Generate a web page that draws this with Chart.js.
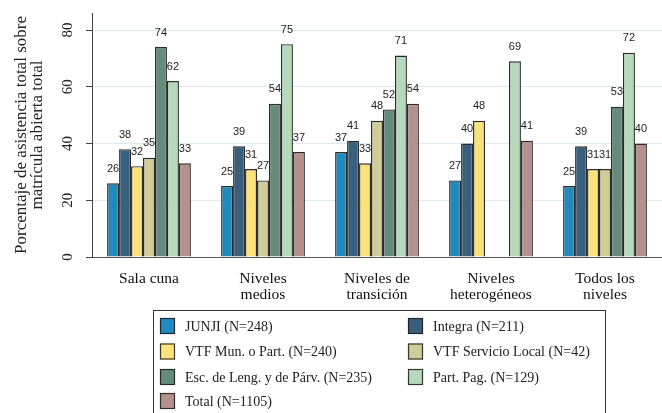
<!DOCTYPE html>
<html><head><meta charset="utf-8">
<script src="https://cdn.jsdelivr.net/npm/chart.js@4.4.0/dist/chart.umd.min.js"></script>
<style>html,body{margin:0;padding:0;background:#fff;}#wrap{position:relative;width:662px;height:413px;}</style>
</head><body><div id="wrap"><canvas id="c" width="662" height="413"></canvas></div>
<script>
const categories = [["Sala cuna"], ["Niveles", "medios"], ["Niveles de", "transición"], ["Niveles", "heterogéneos"], ["Todos los", "niveles"]];
const seriesNames = ["JUNJI (N=248)", "Integra (N=211)", "VTF Mun. o Part. (N=240)", "VTF Servicio Local (N=42)", "Esc. de Leng. y de Párv. (N=235)", "Part. Pag. (N=129)", "Total (N=1105)"];
const junji    = [26, 25, 37, 27, 25];
const integra  = [38, 39, 41, 40, 39];
const vtfMun   = [32, 31, 33, 48, 31];
const vtfLocal = [35, 27, 48, null, 31];
const escLeng  = [74, 54, 52, null, 53];
const partPag  = [62, 75, 71, 69, 72];
const total    = [33, 37, 54, 41, 40];
const yTicks = [0, 20, 40, 60, 80];
const yTitle = ["Porcentaje de asistencia total sobre", "matrícula abierta total"];

const seriesValues = [junji, integra, vtfMun, vtfLocal, escLeng, partPag, total];
const colors = ["#2089bd", "#385f7d", "#fae27a", "#cfcc98", "#658b7c", "#b6d9bc", "#b5918d"];
const SERIF = "'Liberation Serif', 'Times New Roman', serif";

const datasets = seriesValues.map((vals, i) => ({
  label: seriesNames[i],
  data: vals,
  backgroundColor: colors[i],
  borderColor: "rgba(20,20,20,0.9)",
  borderWidth: 1.4,
  barPercentage: 1,
  categoryPercentage: 0.735
}));

const extras = {
  id: "extras",
  afterDatasetsDraw(chart) {
    const ctx = chart.ctx;
    ctx.save();
    ctx.font = "11px 'Liberation Sans Narrow', 'Liberation Sans', Arial, sans-serif";
    ctx.fillStyle = "#222";
    ctx.textAlign = "center";
    ctx.textBaseline = "bottom";
    chart.data.datasets.forEach((ds, di) => {
      const meta = chart.getDatasetMeta(di);
      meta.data.forEach((bar, i) => {
        const v = ds.data[i];
        if (v === null || v === undefined) return;
        ctx.fillText(String(v), bar.x, bar.y - 9);
      });
    });
    // y tick labels rotated
    const ys = chart.scales.y;
    ctx.font = "15px " + SERIF;
    ctx.fillStyle = "#222";
    ctx.textAlign = "center";
    ctx.textBaseline = "middle";
    yTicks.forEach(v => {
      const py = ys.getPixelForValue(v);
      ctx.save();
      ctx.translate(ys.right - 24, py);
      ctx.rotate(-Math.PI / 2);
      ctx.fillText(String(v), 0, 0);
      ctx.restore();
    });
    // legend
    ctx.strokeStyle = "#333";
    ctx.lineWidth = 1;
    ctx.strokeRect(153.5, 310.5, 452, 120);
    const colX = [160, 408];
    const rowY = [326, 351.5, 377, 401];
    ctx.font = "14px " + SERIF;
    ctx.textAlign = "left";
    ctx.textBaseline = "middle";
    chart.data.datasets.forEach((ds, i) => {
      const x = colX[i % 2], y = rowY[Math.floor(i / 2)];
      ctx.fillStyle = ds.backgroundColor;
      ctx.fillRect(x, y - 8, 15, 16);
      ctx.strokeStyle = "rgba(25,25,25,0.85)";
      ctx.lineWidth = 1.2;
      ctx.strokeRect(x + 0.5, y - 7.5, 14, 15);
      ctx.fillStyle = "#222";
      ctx.fillText(ds.label, x + 25, y + 1);
    });
    ctx.restore();
  }
};

new Chart(document.getElementById("c"), {
  type: "bar",
  data: { labels: categories, datasets },
  options: {
    responsive: false,
    animation: false,
    devicePixelRatio: 1,
    layout: { padding: { left: 13, right: 0, top: 13, bottom: 110 } },
    plugins: { legend: { display: false }, tooltip: { enabled: false } },
    scales: {
      x: {
        grid: { display: false },
        border: { display: true, color: "#555", width: 1 },
        ticks: { color: "#111", font: { family: SERIF, size: 15.5, lineHeight: 1.05 }, maxRotation: 0, autoSkip: false, padding: 6 },
        afterFit: s => { s.height = 46; }
      },
      y: {
        min: 0, max: 86,
        afterBuildTicks: s => { s.ticks = yTicks.map(v => ({ value: v })); },
        grid: { color: "#dde9ee", lineWidth: 1, tickColor: "#444", tickLength: 6 },
        border: { display: true, color: "#444", width: 1 },
        ticks: { display: false },
        title: { display: true, text: yTitle, color: "#222", font: { family: SERIF, size: 17, lineHeight: 0.95 }, padding: { top: 0, bottom: 0 } },
        afterFit: s => { s.width = 79; }
      }
    }
  },
  plugins: [extras]
});
</script>
</body></html>
